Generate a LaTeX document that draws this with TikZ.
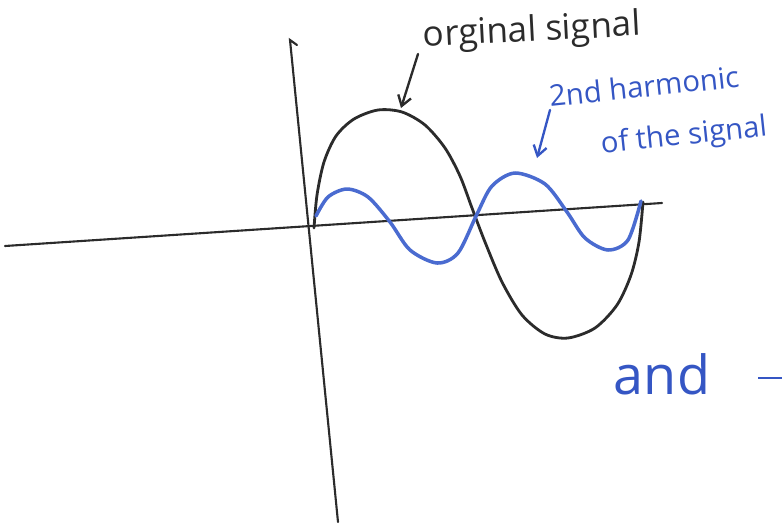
\documentclass[tikz,border=0pt]{standalone}
\usepackage{fontspec}
\setmainfont{Open Sans}
\usetikzlibrary{arrows.meta,positioning}
\definecolor{inkc}{HTML}{2B2B2B}
\definecolor{penc}{HTML}{4A6BD0}
\definecolor{labc}{HTML}{3556C4}
\tikzset{
  axl/.style={inkc,line width=1.8pt,line cap=round},
  sig/.style={inkc,line width=2.4pt,line cap=round,line join=round},
  harm/.style={penc,line width=3pt,line cap=round,line join=round},
  pt/.style={-{Straight Barb[length=3mm,width=4mm]},line width=2pt,line cap=round},
  lab/.style={font=\fontsize{25}{27}\selectfont,inner sep=0pt}
}
\begin{document}
\begin{tikzpicture}[x=0.03cm,y=-0.03cm]
\useasboundingbox (0,0) rectangle (782,525);
% axes
\coordinate (xl) at (5,246);
\coordinate (xr) at (662,203);
\coordinate (yt) at (290,40);
\coordinate (yb) at (338,522);
\draw[axl] (xl) -- (xr);
\draw[axl] (yb) -- (yt) -- ++(7,5);
% original signal and its 2nd harmonic
\draw[sig] plot[smooth] coordinates {(314,228) (317,195) (324,162) (336,136) (354,119) (378,110) (402,112) (425,125) (445,148) (460,176) (472,208) (485,242) (502,282) (522,315) (545,334) (568,338) (595,328) (617,305) (631,275) (639,242) (643,202)};
\draw[harm] plot[smooth] coordinates {(316,216) (328,197) (347,189) (368,197) (390,222) (410,250) (437,263) (458,253) (477,214) (492,186) (515,173) (545,184) (567,212) (585,238) (608,250) (628,240) (641,201)};
% labels
\node[lab,inkc,rotate=3,font=\fontsize{30}{32}\selectfont] (olab) at (532,32) {orginal signal};
\node[lab,labc,rotate=6] (hlab) at (644,86) {2nd harmonic};
\node[lab,labc,rotate=6] (hlab2) at (684,137) {of the signal};
\node[labc,inner sep=0pt,font=\fontsize{46}{48}\selectfont] (andw) at (662,374) {and};
% pointers
\coordinate (otail) at (418,54);
\coordinate (ohead) at (401,108);
\draw[pt,inkc] (otail) -- (ohead);
\coordinate (htail) at (550,110);
\coordinate (hhead) at (537,158);
\draw[pt,labc] (htail) -- (hhead);
\coordinate (fb) at (758,378);
\draw[labc,line width=1.5pt] (fb) -- ++(30,0);
\end{tikzpicture}
\end{document}
